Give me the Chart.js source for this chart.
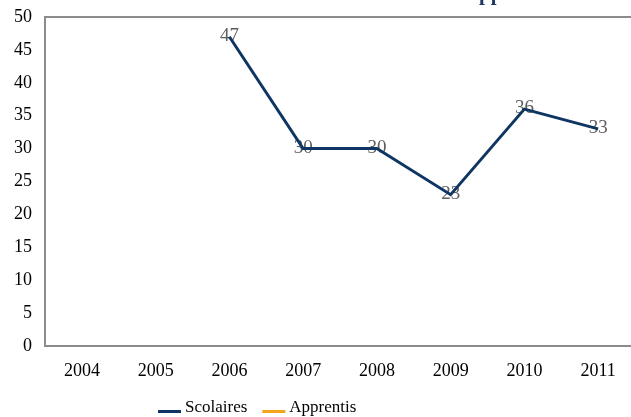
<!DOCTYPE html>
<html>
<head>
<meta charset="utf-8">
<script src="https://cdn.jsdelivr.net/npm/chart.js@4"></script>
<style>
  html, body { margin: 0; padding: 0; background: #fff; overflow: hidden; }
  #wrap { width: 640px; height: 417px; }
</style>
</head>
<body>
<div id="wrap"><canvas id="chart" width="640" height="417"></canvas></div>
<script>
// data
const years = ['2004', '2005', '2006', '2007', '2008', '2009', '2010', '2011'];
const scolaires = [null, null, 47, 30, 30, 23, 36, 33];
const apprentis = [null, null, null, null, null, null, null, null];
const titleText = 'Evolution des effectifs scolaires et apprentis';

const serif = '"Liberation Serif", "DejaVu Serif", serif';

// frame, clipped title, point labels (under the line) and legend
const extras = {
  id: 'extras',
  beforeDraw(chart) {
    const ctx = chart.ctx;
    ctx.save();
    ctx.fillStyle = '#1f3864';
    ctx.font = 'bold 21px ' + serif;
    ctx.textAlign = 'center';
    ctx.textBaseline = 'alphabetic';
    ctx.fillText(titleText, 358, 0);
    ctx.restore();
  },
  beforeDatasetsDraw(chart) {
    const ctx = chart.ctx;
    const meta = chart.getDatasetMeta(0);
    ctx.save();
    ctx.fillStyle = '#5e5e5e';
    ctx.font = '19px ' + serif;
    ctx.textAlign = 'center';
    ctx.textBaseline = 'middle';
    meta.data.forEach(function (pt, i) {
      if (scolaires[i] == null) return;
      ctx.fillText(String(scolaires[i]), pt.x, pt.y - 1);
    });
    ctx.restore();
  },
  afterDatasetsDraw(chart) {
    const ctx = chart.ctx;
    const a = chart.chartArea;
    ctx.save();
    ctx.strokeStyle = '#8c8c8c';
    ctx.lineWidth = 2;
    ctx.strokeRect(a.left, a.top, a.right - a.left, a.bottom - a.top);

    // legend
    ctx.font = '17px ' + serif;
    ctx.textAlign = 'left';
    ctx.textBaseline = 'middle';
    let x = 158;
    const y = 408;
    chart.data.datasets.forEach(function (ds) {
      ctx.fillStyle = ds.borderColor;
      ctx.fillRect(x, y + 2, 23, 3);
      ctx.fillStyle = '#000';
      ctx.fillText(ds.label, x + 27, y);
      x += 27 + ctx.measureText(ds.label).width + 15;
    });
    ctx.restore();
  }
};

new Chart(document.getElementById('chart'), {
  type: 'line',
  data: {
    labels: years,
    datasets: [{
        label: 'Scolaires',
        data: scolaires,
        borderColor: '#0f3563',
        backgroundColor: '#0f3563',
        borderWidth: 3,
        pointRadius: 0,
        tension: 0
      },
      {
        label: 'Apprentis',
        data: apprentis,
        borderColor: '#f2a516',
        backgroundColor: '#f2a516',
        borderWidth: 3,
        pointRadius: 0
      }
    ]
  },
  options: {
    responsive: false,
    animation: false,
    layout: { padding: { top: 17, right: 5, left: 0, bottom: 0 } },
    scales: {
      x: {
        offset: true,
        grid: { display: false, drawTicks: false },
        border: { display: false },
        ticks: { color: '#000', font: { family: serif, size: 18 }, padding: 14, maxRotation: 0 },
        afterFit(scale) { scale.height = 71; scale.paddingLeft = 0; scale.paddingRight = 0; }
      },
      y: {
        min: 0,
        max: 50,
        grid: { display: false, drawTicks: false },
        border: { display: false },
        ticks: { stepSize: 5, color: '#000', font: { family: serif, size: 18 }, padding: 13 },
        afterFit(scale) { scale.width = 45; scale.paddingTop = 0; scale.paddingBottom = 0; }
      }
    },
    plugins: {
      legend: { display: false },
      tooltip: { enabled: false }
    }
  },
  plugins: [extras]
});
</script>
</body>
</html>
